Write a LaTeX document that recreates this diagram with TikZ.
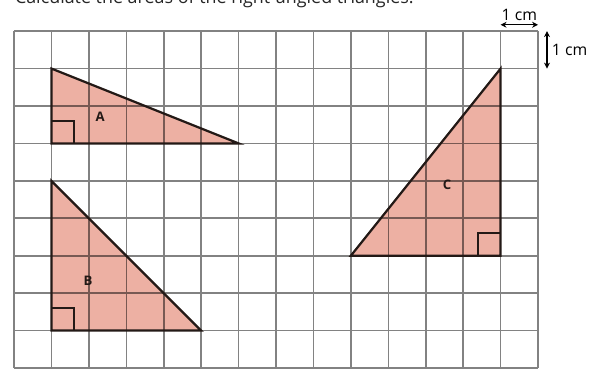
\documentclass[tikz,border=0pt]{standalone}
\usepackage{fontspec}
\setmainfont{Open Sans}
\usetikzlibrary{arrows.meta}
\definecolor{gridgray}{RGB}{130,130,130}
\definecolor{trifill}{RGB}{237,176,163}
\definecolor{triline}{RGB}{35,25,22}
\tikzset{
  gridline/.style={draw=gridgray, line width=1.2pt},
  triedge/.style={draw=triline, line width=1.7pt, line join=miter},
  rtangle/.style={draw=triline, line width=1.2pt},
  trilabel/.style={font=\bfseries\fontsize{10}{11}\selectfont, text=triline},
  dimlabel/.style={font=\fontsize{12}{13}\selectfont, text=black},
  dimarrow/.style={{Stealth[length=4.5pt,width=4.5pt]}-{Stealth[length=4.5pt,width=4.5pt]}, line width=0.9pt}
}
\begin{document}
\begin{tikzpicture}
\useasboundingbox (-0.374,-0.053) rectangle (15.442,9.832);
% title (cut off at top, as in the reference)
\node[anchor=base west, inner sep=0pt, font=\fontsize{13.6}{15}\selectfont, text=black!85] (title) at (0.02,9.74) {Calculate the areas of the right-angled triangles.};
% triangles (fill)
\fill[trifill] (1,8) -- (1,6) -- (6,6) -- cycle;
\fill[trifill] (1,5) -- (1,1) -- (5,1) -- cycle;
\fill[trifill] (13,8) -- (9,3) -- (13,3) -- cycle;
% grid
\begin{scope}[blend mode=multiply]
\draw[gridline] (0,0) grid (14,9);
\end{scope}
% outlines
\draw[triedge] (1,8) -- (1,6) -- (6,6) -- cycle;
\draw[triedge] (1,5) -- (1,1) -- (5,1) -- cycle;
\draw[triedge] (13,8) -- (9,3) -- (13,3) -- cycle;
% right angle marks
\draw[rtangle] (1,6.6) -- (1.6,6.6) -- (1.6,6);
\draw[rtangle] (1,1.6) -- (1.6,1.6) -- (1.6,1);
\draw[rtangle] (12.4,3) -- (12.4,3.6) -- (13,3.6);
% labels
\node[trilabel] (la) at (2.3,6.7) {A};
\node[trilabel] (lb) at (1.98,2.32) {B};
\node[trilabel] (lc) at (11.57,4.9) {C};
% dimension arrows
\coordinate (h1) at (13,9.17);
\coordinate (h2) at (14,9.17);
\coordinate (v1) at (14.24,9);
\coordinate (v2) at (14.24,8);
\draw[dimarrow] (h1) -- (h2);
\draw[dimarrow] (v1) -- (v2);
\node[dimlabel, anchor=south, inner sep=1pt] (hl) at (13.5,9.24) {1 cm};
\node[dimlabel, anchor=west, inner sep=1pt] (vl) at (14.33,8.5) {1 cm};
\end{tikzpicture}
\end{document}
